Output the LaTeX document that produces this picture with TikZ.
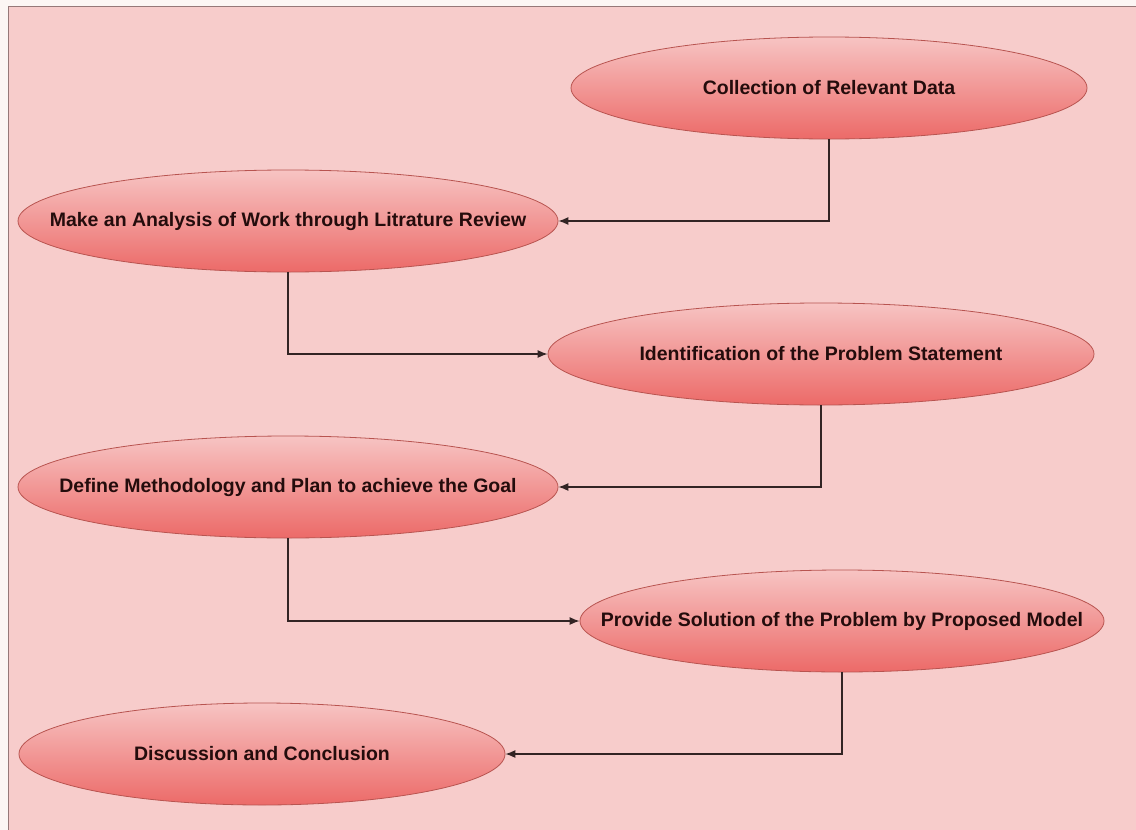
\documentclass[tikz,border=0pt]{standalone}
\usepackage{fontspec}
\setmainfont{Liberation Sans}
\usepackage{tikz}
\usetikzlibrary{arrows.meta,shapes.geometric,positioning}
\usepackage{xcolor}

\definecolor{paper}{RGB}{252,246,244}
\definecolor{sheet}{RGB}{247,204,203}
\definecolor{sheetline}{RGB}{150,120,120}
\definecolor{stagetop}{RGB}{247,196,195}
\definecolor{stagebottom}{RGB}{236,106,104}
\definecolor{stageline}{RGB}{184,84,80}
\definecolor{stagetext}{RGB}{36,12,12}
\definecolor{linkline}{RGB}{50,36,36}

\newcommand{\stagelabel}[1]{\makebox[0pt]{#1}}

\begin{document}
\begin{tikzpicture}[x=1pt,y=-1pt]
                    \tikzstyle{stage} = [
	shape=ellipse,
	draw=stageline, %border of the ellipse
	top color=stagetop, %light pink at the top
	bottom color=stagebottom, %salmon red at the bottom
	line width=0.8pt,
	minimum height=102pt,
	inner sep=0pt,
	text=stagetext,
	font=\fontsize{19.5}{22}\selectfont\bfseries
];
\tikzstyle{elbow} = [
	-{Latex[length=10pt,width=8pt]},
	to path={|- (\tikztotarget)}
];

\useasboundingbox (0,0) rectangle (1136,830);
\fill[paper] (0,0) rectangle (1136,830);
\draw[fill=sheet, draw=sheetline, line width=1pt] (8,6) rectangle (1160,860);

\begin{scope}[shift={(0,0)}]
	\node[stage, minimum width=516pt](collect) at (829,88) {\stagelabel{Collection of Relevant Data}};
	\node[stage, minimum width=546pt](problem) at (821,354) {\stagelabel{Identification of the Problem Statement}};
	\node[stage, minimum width=524pt](solution) at (842,621) {\stagelabel{Provide Solution of the Problem by Proposed Model}};
\end{scope}

\begin{scope}[shift={(0,0)}]
	\node[stage, minimum width=540pt](review) at (288,221) {\stagelabel{Make an Analysis of Work through Litrature Review}};
	\node[stage, minimum width=540pt](method) at (288,487) {\stagelabel{Define Methodology and Plan to achieve the Goal}};
	\node[stage, minimum width=486pt](discuss) at (262,754) {\stagelabel{Discussion and Conclusion}};
\end{scope}

%steps of the work
\draw[line width=1.2pt, color=linkline]
	(collect.south) edge[elbow] (review.east)
	(review.south) edge[elbow] (problem.west)
	(problem.south) edge[elbow] (method.east)
	(method.south) edge[elbow] (solution.west)
	(solution.south) edge[elbow] (discuss.east)
;

                \end{tikzpicture}
\end{document}
